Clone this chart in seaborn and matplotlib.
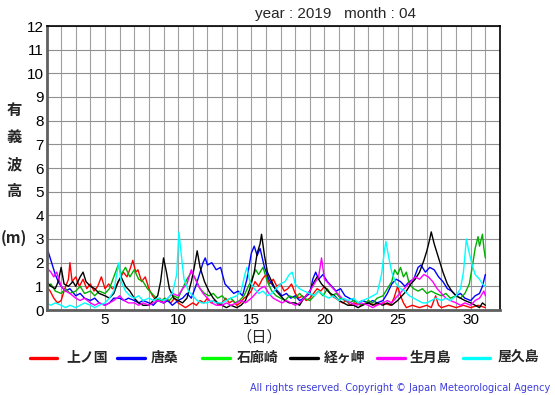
import matplotlib
matplotlib.use("Agg")
import matplotlib.pyplot as plt
from matplotlib.lines import Line2D
import seaborn as sns
import pandas as pd

stations = ["上ノ国", "唐桑", "石廊崎", "経ヶ岬", "生月島", "屋久島"]
line_colors = ["#ff0000", "#0000ff", "#00b000", "#000000", "#ff00ff", "#00ffff"]
legend_colors = ["#ff0000", "#0000ff", "#00ff00", "#000000", "#ff00ff", "#00ffff"]

red = [(1.0,1.0),(1.25,0.8),(1.5,0.5),(1.75,0.3),(2.0,0.4),(2.25,0.9),(2.5,1.3),(2.6,2.0),(2.75,1.2),(3.0,1.4),(3.25,1.0),(3.5,1.3),(3.75,0.9),(4.0,1.1),(4.25,0.8),(4.5,1.0),(4.75,1.4),(5.0,0.9),(5.25,1.1),(5.5,0.9),(5.75,1.0),(6.0,1.3),(6.25,1.6),(6.5,1.4),(6.75,1.8),(6.9,2.1),(7.1,1.6),(7.25,1.7),(7.5,1.2),(7.75,1.4),(8.0,0.9),(8.25,0.6),(8.5,0.4),(8.75,0.5),(9.0,0.3),(9.25,0.4),(9.5,0.3),(9.75,0.5),(10.0,0.3),(10.25,0.2),(10.5,0.1),(10.75,0.2),(11.0,0.3),(11.25,0.2),(11.5,0.4),(11.75,0.3),(12.0,0.5),(12.25,0.3),(12.5,0.4),(12.75,0.2),(13.0,0.3),(13.25,0.5),(13.5,0.3),(13.75,0.4),(14.0,0.2),(14.25,0.3),(14.5,0.5),(14.75,0.6),(15.0,0.8),(15.25,1.2),(15.5,1.0),(15.75,1.3),(16.0,1.5),(16.25,1.1),(16.5,1.3),(16.75,1.0),(17.0,1.1),(17.25,0.8),(17.5,0.9),(17.75,1.1),(18.0,0.7),(18.25,0.5),(18.5,0.6),(18.75,0.4),(19.0,0.5),(19.25,0.7),(19.5,0.9),(19.75,0.8),(20.0,1.0),(20.25,0.8),(20.5,0.6),(20.75,0.5),(21.0,0.4),(21.25,0.3),(21.5,0.4),(21.75,0.2),(22.0,0.3),(22.5,0.2),(23.0,0.3),(23.5,0.2),(24.0,0.3),(24.5,0.2),(24.75,0.5),(25.0,1.0),(25.2,0.6),(25.4,0.3),(25.6,0.1),(26.0,0.2),(26.5,0.1),(27.0,0.2),(27.3,0.1),(27.6,0.6),(27.8,0.2),(28.0,0.1),(28.5,0.2),(29.0,0.1),(29.5,0.2),(30.0,0.1),(30.5,0.2),(31.0,0.1)]

blue = [(1.0,2.7),(1.2,2.3),(1.4,1.9),(1.6,1.5),(1.8,1.2),(2.0,1.0),(2.3,0.8),(2.6,0.9),(3.0,0.6),(3.3,0.7),(3.6,0.5),(4.0,0.4),(4.3,0.5),(4.6,0.3),(5.0,0.2),(5.3,0.3),(5.6,0.5),(6.0,0.5),(6.3,0.4),(6.6,0.5),(7.0,0.4),(7.3,0.3),(7.6,0.4),(8.0,0.3),(8.3,0.2),(8.6,0.4),(9.0,0.3),(9.3,0.4),(9.6,0.2),(10.0,0.4),(10.3,0.5),(10.6,0.7),(10.9,0.5),(11.2,1.0),(11.5,1.6),(11.7,2.0),(11.85,2.2),(12.0,1.9),(12.3,2.0),(12.6,1.7),(12.9,1.8),(13.2,1.1),(13.5,0.9),(13.8,0.7),(14.1,0.8),(14.4,0.6),(14.7,1.3),(15.0,2.4),(15.2,2.7),(15.4,2.3),(15.6,2.6),(15.9,1.8),(16.2,1.3),(16.5,1.0),(16.8,0.8),(17.1,0.6),(17.4,0.7),(17.7,0.5),(18.0,0.6),(18.3,0.4),(18.6,0.5),(19.0,0.7),(19.2,1.3),(19.4,1.6),(19.6,1.3),(19.9,1.5),(20.2,1.2),(20.5,1.0),(20.8,0.8),(21.1,0.9),(21.4,0.6),(21.7,0.5),(22.0,0.4),(22.3,0.3),(22.6,0.4),(23.0,0.3),(23.3,0.4),(23.6,0.3),(24.0,0.4),(24.3,0.7),(24.6,1.1),(24.9,1.3),(25.2,1.2),(25.5,1.0),(25.8,1.2),(26.1,1.3),(26.4,1.8),(26.6,1.9),(26.9,1.6),(27.2,1.8),(27.5,1.7),(27.8,1.4),(28.1,1.2),(28.4,0.9),(28.7,0.8),(29.0,0.6),(29.3,0.7),(29.6,0.5),(30.0,0.4),(30.3,0.6),(30.6,0.7),(30.8,1.0),(31.0,1.5)]

green = [(1.0,0.9),(1.3,1.1),(1.6,0.8),(2.0,0.7),(2.3,0.9),(2.6,0.7),(3.0,0.8),(3.3,1.0),(3.6,0.7),(4.0,0.8),(4.3,0.6),(4.6,0.8),(5.0,0.7),(5.3,0.9),(5.6,1.4),(5.9,1.9),(6.1,1.5),(6.4,1.8),(6.7,1.4),(7.0,1.7),(7.3,1.3),(7.6,1.2),(7.9,0.9),(8.2,0.7),(8.5,0.5),(8.8,0.4),(9.1,0.5),(9.4,0.4),(9.7,0.6),(10.0,0.5),(10.3,0.9),(10.6,1.3),(10.9,1.6),(11.2,1.3),(11.5,0.9),(11.8,0.7),(12.1,0.6),(12.4,0.7),(12.7,0.5),(13.0,0.6),(13.3,0.4),(13.6,0.5),(13.9,0.3),(14.2,0.4),(14.5,0.6),(14.8,1.0),(15.1,1.4),(15.3,1.7),(15.5,1.5),(15.8,1.8),(16.1,1.2),(16.4,0.8),(16.7,0.6),(17.0,0.5),(17.3,0.4),(17.6,0.6),(18.0,0.5),(18.3,0.7),(18.6,0.5),(19.0,0.4),(19.3,0.6),(19.6,0.8),(19.9,0.6),(20.2,0.9),(20.5,0.6),(20.8,0.7),(21.1,0.5),(21.4,0.4),(21.7,0.3),(22.0,0.4),(22.3,0.3),(22.6,0.2),(23.0,0.4),(23.3,0.3),(23.6,0.5),(24.0,0.6),(24.3,0.9),(24.6,1.2),(24.8,1.7),(25.0,1.5),(25.2,1.8),(25.4,1.4),(25.6,1.6),(25.8,1.1),(26.1,0.9),(26.4,0.8),(26.7,0.9),(27.0,0.7),(27.3,0.8),(27.6,0.7),(28.0,0.6),(28.3,0.7),(28.6,0.5),(29.0,0.6),(29.3,0.5),(29.6,0.7),(29.9,1.1),(30.1,1.8),(30.3,2.6),(30.5,3.1),(30.6,2.7),(30.8,3.2),(30.9,2.6),(31.0,2.2)]

black = [(1.0,1.2),(1.3,1.0),(1.6,0.9),(1.8,1.2),(2.0,1.8),(2.2,1.1),(2.5,1.0),(2.8,1.2),(3.0,1.0),(3.3,1.4),(3.5,1.6),(3.7,1.2),(4.0,1.0),(4.3,0.9),(4.6,0.7),(5.0,0.6),(5.3,0.5),(5.6,0.7),(5.9,1.2),(6.1,1.4),(6.4,1.0),(6.7,0.8),(7.0,0.5),(7.3,0.3),(7.6,0.2),(8.0,0.2),(8.3,0.4),(8.6,0.6),(8.8,1.2),(9.0,2.2),(9.2,1.6),(9.4,0.9),(9.7,0.5),(10.0,0.4),(10.3,0.3),(10.6,0.5),(10.9,1.2),(11.1,1.8),(11.3,2.5),(11.5,1.8),(11.8,1.2),(12.1,0.8),(12.4,0.5),(12.7,0.3),(13.0,0.2),(13.3,0.1),(13.6,0.2),(14.0,0.1),(14.3,0.2),(14.6,0.4),(14.9,0.9),(15.2,1.6),(15.4,2.4),(15.6,2.8),(15.7,3.2),(15.9,2.3),(16.1,1.6),(16.4,1.2),(16.7,0.8),(17.0,0.6),(17.3,0.4),(17.6,0.3),(18.0,0.3),(18.3,0.2),(18.6,0.5),(19.0,0.8),(19.3,1.2),(19.5,1.4),(19.8,1.1),(20.1,0.9),(20.4,0.7),(20.7,0.6),(21.0,0.4),(21.3,0.3),(21.6,0.2),(22.0,0.2),(22.3,0.1),(22.6,0.2),(23.0,0.3),(23.3,0.2),(23.6,0.3),(24.0,0.2),(24.3,0.3),(24.6,0.2),(25.0,0.4),(25.3,0.6),(25.6,0.8),(25.9,1.1),(26.2,1.3),(26.5,1.6),(26.8,2.1),(27.0,2.5),(27.2,3.0),(27.3,3.3),(27.5,2.8),(27.7,2.4),(27.9,2.0),(28.1,1.6),(28.4,1.1),(28.7,0.8),(29.0,0.6),(29.3,0.5),(29.6,0.4),(30.0,0.3),(30.3,0.2),(30.6,0.1),(30.8,0.3),(31.0,0.2)]

magenta = [(1.0,1.8),(1.3,1.6),(1.5,1.4),(1.7,1.6),(2.0,1.0),(2.3,0.8),(2.6,0.7),(3.0,0.5),(3.3,0.4),(3.6,0.5),(4.0,0.3),(4.3,0.2),(4.6,0.3),(5.0,0.2),(5.3,0.3),(5.6,0.4),(6.0,0.6),(6.3,0.4),(6.6,0.3),(7.0,0.3),(7.3,0.2),(7.6,0.3),(8.0,0.2),(8.3,0.3),(8.6,0.4),(9.0,0.3),(9.3,0.5),(9.6,0.7),(10.0,0.6),(10.3,0.9),(10.6,1.1),(10.9,1.7),(11.1,1.4),(11.4,1.0),(11.7,0.7),(12.0,0.5),(12.3,0.3),(12.6,0.2),(13.0,0.2),(13.3,0.3),(13.6,0.2),(14.0,0.3),(14.3,0.4),(14.6,0.3),(15.0,0.5),(15.3,0.7),(15.6,0.9),(15.9,1.0),(16.2,0.7),(16.5,0.5),(16.8,0.4),(17.1,0.3),(17.4,0.4),(17.7,0.3),(18.0,0.2),(18.3,0.3),(18.6,0.5),(19.0,0.8),(19.3,1.1),(19.6,1.4),(19.8,2.2),(20.0,1.3),(20.3,1.1),(20.6,0.9),(20.9,0.7),(21.2,0.5),(21.5,0.4),(21.8,0.3),(22.2,0.2),(22.5,0.3),(23.0,0.2),(23.3,0.1),(23.6,0.2),(24.0,0.3),(24.3,0.4),(24.6,0.3),(25.0,0.6),(25.3,0.8),(25.6,1.0),(25.9,1.2),(26.2,1.4),(26.5,1.3),(26.8,1.5),(27.1,1.4),(27.4,1.2),(27.7,0.9),(28.0,0.7),(28.3,0.5),(28.6,0.4),(29.0,0.3),(29.3,0.2),(29.6,0.3),(30.0,0.2),(30.3,0.4),(30.6,0.5),(30.9,0.8),(31.0,0.6)]

cyan = [(1.0,0.3),(1.3,0.2),(1.6,0.3),(2.0,0.2),(2.3,0.1),(2.6,0.2),(3.0,0.1),(3.3,0.2),(3.6,0.3),(4.0,0.2),(4.3,0.1),(4.6,0.2),(5.0,0.3),(5.3,0.5),(5.6,0.8),(5.8,1.5),(5.95,2.0),(6.1,1.2),(6.4,0.8),(6.7,0.6),(7.0,0.5),(7.3,0.6),(7.6,0.4),(8.0,0.5),(8.3,0.4),(8.6,0.5),(9.0,0.4),(9.3,0.5),(9.6,0.7),(9.9,1.5),(10.05,3.3),(10.2,2.4),(10.4,1.3),(10.7,0.8),(11.0,0.6),(11.3,0.4),(11.6,0.3),(12.0,0.3),(12.3,0.4),(12.6,0.3),(13.0,0.3),(13.3,0.4),(13.6,0.5),(14.0,0.6),(14.3,0.8),(14.6,1.6),(14.7,1.8),(14.9,1.2),(15.2,0.9),(15.5,0.7),(15.8,0.8),(16.1,0.6),(16.4,0.7),(16.7,0.9),(17.0,1.1),(17.3,1.2),(17.6,1.5),(17.8,1.6),(18.0,1.1),(18.3,0.9),(18.6,0.8),(19.0,0.7),(19.3,0.6),(19.6,0.8),(20.0,0.6),(20.3,0.5),(20.6,0.6),(21.0,0.4),(21.3,0.5),(21.6,0.4),(22.0,0.5),(22.3,0.3),(22.6,0.4),(23.0,0.5),(23.3,0.6),(23.6,0.7),(23.9,1.5),(24.1,2.5),(24.2,2.9),(24.4,2.2),(24.6,1.6),(24.9,1.1),(25.2,0.9),(25.5,0.8),(25.8,0.6),(26.1,0.5),(26.4,0.4),(26.7,0.3),(27.0,0.3),(27.3,0.4),(27.6,0.5),(28.0,0.4),(28.3,0.5),(28.6,0.4),(29.0,0.6),(29.3,0.9),(29.5,1.6),(29.7,3.0),(29.9,2.4),(30.1,1.9),(30.3,1.5),(30.6,1.3),(30.8,1.1),(31.0,1.0)]

series = [red, blue, green, black, magenta, cyan]
x_ticks = [5, 10, 15, 20, 25, 30]
y_ticks = list(range(0, 13))

rows = []
for name, pts in zip(stations, series):
    for d, v in pts:
        rows.append({"day": d, "height": v, "station": name})
df = pd.DataFrame(rows)

sns.set_theme(style="white")
plt.rcParams["font.family"] = ["Liberation Sans", "Noto Sans CJK JP", "DejaVu Sans"]

W, H = 555, 395
fig = plt.figure(figsize=(W / 100, H / 100), dpi=100)
ax = fig.add_axes([46.5 / W, 1 - 310 / H, (500 - 46.5) / W, (310 - 26) / H])

sns.lineplot(data=df, x="day", y="height", hue="station", hue_order=stations,
             palette=dict(zip(stations, line_colors)), estimator=None, sort=False,
             legend=False, linewidth=1.0, ax=ax)

ax.set_xlim(1, 32)
ax.set_ylim(0, 12)
ax.set_xticks(range(1, 33), minor=True)
ax.set_xticks(x_ticks)
ax.set_yticks(y_ticks)
ax.set_xticklabels([str(t) for t in x_ticks])
ax.set_yticklabels([str(t) for t in y_ticks])
ax.grid(True, which="both", axis="x", color="#a0a0a0", linewidth=0.8)
ax.grid(True, which="major", axis="y", color="#909090", linewidth=0.8)
ax.set_axisbelow(True)
ax.tick_params(axis="both", which="both", length=0, labelsize=11, pad=2, colors="black")
ax.set_xlabel("")
ax.set_ylabel("")
for s in ["top", "right"]:
    ax.spines[s].set_color("black")
    ax.spines[s].set_linewidth(1.2)
for s in ["left", "bottom"]:
    ax.spines[s].set_color("#606060")
    ax.spines[s].set_linewidth(2.0)

def fx(px):
    return px / W

def fy(py):
    return 1 - py / H

fig.text(fx(335), fy(14), "year : 2019   month : 04", ha="center", va="center", fontsize=11)

cjk = ["Noto Sans CJK JP", "DejaVu Sans"]
for ch, yy in zip(["有", "義", "波", "高", "(m)"], [110, 137, 164, 191, 238]):
    fig.text(fx(14), fy(yy), ch, ha="center", va="center", fontsize=11, fontweight="bold", family=cjk)

fig.text(fx(259), fy(337), "（日）", ha="center", va="center", fontsize=11, family=cjk)

line_x = [(30, 57), (117, 145), (202, 230), (290, 318), (377, 405), (463, 490)]
label_x = [66, 151, 237, 324, 410, 498]
for (x0, x1), lx, col, name in zip(line_x, label_x, legend_colors, stations):
    fig.add_artist(Line2D([fx(x0), fx(x1)], [fy(358), fy(358)], transform=fig.transFigure,
                          color=col, linewidth=2.4))
    fig.text(fx(lx), fy(358), name, ha="left", va="center", fontsize=10, fontweight="bold", family=cjk)

fig.text(fx(550), fy(388), "All rights reserved. Copyright © Japan Meteorological Agency",
         ha="right", va="center", fontsize=7, color="#3c3cdc", family=["DejaVu Sans"])

fig.savefig("out.png", dpi=100)
